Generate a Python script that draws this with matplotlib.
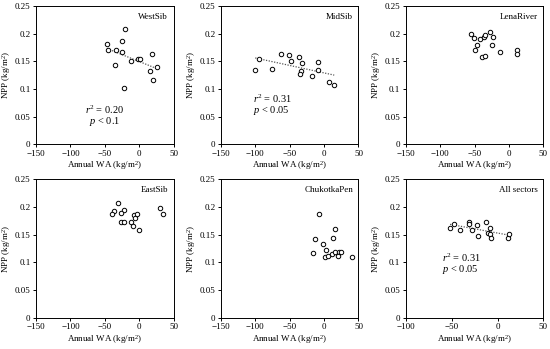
import numpy as np
import matplotlib
matplotlib.use("Agg")
import matplotlib.pyplot as plt

plt.rcParams["font.family"] = ["Liberation Serif", "DejaVu Serif"]
plt.rcParams["mathtext.fontset"] = "custom"
plt.rcParams["mathtext.rm"] = "Liberation Serif"
plt.rcParams["mathtext.it"] = "Liberation Serif:italic"

# sector data: annual WA (kg/m2) vs NPP (kg/m2)
westsib_wa = [-47, -44.6, -33.4, -25.1, -20.7, -25.1, -35.4, -12, -1.7, 1.2, 18.8, 15.9, 26.6, 20.2, -21.7]
westsib_npp = [0.181, 0.170, 0.171, 0.186, 0.208, 0.167, 0.143, 0.151, 0.154, 0.155, 0.163, 0.132, 0.140, 0.117, 0.101]

midsib_wa = [-100.2, -95.4, -76, -62, -51.4, -48, -36.5, -32.2, -33.7, -35.5, -17.1, -8.9, -8.9, 7.5, 14.7]
midsib_npp = [0.134, 0.154, 0.137, 0.164, 0.162, 0.151, 0.158, 0.147, 0.133, 0.127, 0.124, 0.148, 0.135, 0.113, 0.108]

lena_wa = [-55.3, -51, -42.8, -37, -34.6, -28.3, -24, -46.3, -50.1, -25.4, -39.2, -35.4, -13.3, 10.9, 12.3]
lena_npp = [0.199, 0.193, 0.191, 0.194, 0.198, 0.203, 0.194, 0.179, 0.170, 0.179, 0.158, 0.159, 0.167, 0.170, 0.164]

eastsib_wa = [-30.1, -36, -38.8, -21.4, -25.7, -26.7, -21.4, -12.1, -7.8, -5.8, -2.9, -9.2, -0.5, 30.1, 35]
eastsib_npp = [0.207, 0.193, 0.187, 0.194, 0.190, 0.174, 0.174, 0.174, 0.185, 0.181, 0.187, 0.166, 0.159, 0.198, 0.187]

chukotka_wa = [-7.5, 15.7, -13.8, 13.3, -1.7, 3.1, -16.7, 10.9, 15.7, 21.5, 23.9, 0.7, 5.6, 19.6, 40.8]
chukotka_npp = [0.187, 0.160, 0.143, 0.145, 0.134, 0.123, 0.117, 0.116, 0.119, 0.119, 0.119, 0.109, 0.112, 0.112, 0.110]

all_wa = [-51.8, -47.8, -40.6, -31.2, -31.2, -27.9, -22.8, -21.4, -12.3, -10.5, -8, -8.3, -6.9, 11.2, 13]
all_npp = [0.163, 0.169, 0.158, 0.173, 0.170, 0.159, 0.167, 0.148, 0.173, 0.153, 0.163, 0.151, 0.145, 0.144, 0.151]

panels = [
    ("WestSib", westsib_wa, westsib_npp, (-150, 50), ("0.20", "0.1"), (-50, 0.063), "center"),
    ("MidSib", midsib_wa, midsib_npp, (-150, 50), ("0.31", "0.05"), (-104, 0.083), "left"),
    ("LenaRiver", lena_wa, lena_npp, (-150, 50), None, None, None),
    ("EastSib", eastsib_wa, eastsib_npp, (-150, 50), None, None, None),
    ("ChukotkaPen", chukotka_wa, chukotka_npp, (-150, 50), None, None, None),
    ("All sectors", all_wa, all_npp, (-100, 50), ("0.31", "0.05"), (-61, 0.109), "left"),
]

lefts = [0.0655, 0.4018, 0.738]
bottoms = [0.5865, 0.0897]
fs = 6.5

fig = plt.figure(figsize=(5.5, 3.49), dpi=100)

for i, (name, wa, npp, xlim, stats, pos, ha) in enumerate(panels):
    ax = fig.add_axes([lefts[i % 3], bottoms[i // 3], 0.250, 0.396])
    ax.plot(wa, npp, "o", mfc="white", mec="black", ms=3.2, mew=0.7, zorder=3)
    if stats is not None:
        k, b = np.polyfit(wa, npp, 1)
        xs = np.array([min(wa), max(wa)])
        ax.plot(xs, k * xs + b, linestyle=(0, (1, 1.2)), color="#555555", lw=0.9, zorder=2)
        ax.text(pos[0], pos[1], r"$r^2$ = " + stats[0], fontsize=7.5, ha=ha, va="center")
        ax.text(pos[0] if ha == "left" else pos[0] - 1, pos[1] - 0.022, r"$p$ < " + stats[1],
                fontsize=7.5, ha=ha, va="center")
    ax.set_xlim(*xlim)
    ax.set_ylim(0, 0.25)
    ax.set_xticks(np.arange(xlim[0], xlim[1] + 1, 50))
    ax.set_yticks([0, 0.05, 0.1, 0.15, 0.2, 0.25])
    ax.set_yticklabels(["0", "0.05", "0.1", "0.15", "0.2", "0.25"])
    ax.text(0.96, 0.95, name, transform=ax.transAxes, ha="right", va="top", fontsize=fs)
    ax.set_xlabel("Annual WA (kg/m$^2$)", fontsize=fs, labelpad=1)
    ax.set_ylabel("NPP (kg/m$^2$)", fontsize=fs, labelpad=1)
    ax.tick_params(labelsize=fs, length=2.5, width=0.7, pad=1.5)
    for sp in ax.spines.values():
        sp.set_linewidth(0.7)

fig.savefig("out.png", dpi=100)
